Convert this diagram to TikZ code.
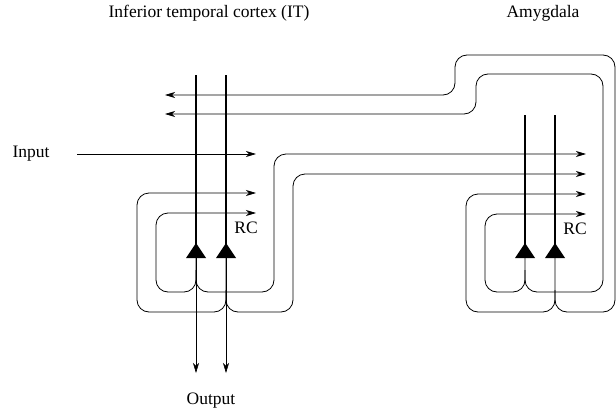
\documentclass[tikz,border=0pt]{standalone}
\usepackage{fontspec}
\setmainfont{Liberation Serif}
\usetikzlibrary{arrows.meta}

\begin{document}
\begin{tikzpicture}[x=1pt, y=-1pt,
        font=\fontsize{17.5}{20}\selectfont,
        axon/.style={line width=0.8pt, rounded corners=12pt},
        dendrite/.style={line width=2.6pt},
        soma/.style={fill=black},
        tip/.style={-{Stealth[length=10pt, width=6pt, inset=3pt]}}]
        \useasboundingbox ( 0, 0 ) rectangle ( 616, 415 );

        % подписи
        \node (itlabel) at ( 209, 13 ) {Inferior temporal cortex (IT)};
        \node (amylabel) at ( 543, 13 ) {Amygdala};
        \node (input) at ( 31, 154 ) {Input};
        \node (output) at ( 211, 401 ) {Output};
        \node (itrc) at ( 246, 228 ) {RC};
        \node (amyrc) at ( 575, 229 ) {RC};

        % тела нейронов
        \coordinate (it1) at ( 196, 258 );
        \coordinate (it2) at ( 226, 258 );
        \coordinate (amy1) at ( 525, 258 );
        \coordinate (amy2) at ( 555, 258 );

        % вход
        \draw [axon, tip] ( 77, 154 ) -- ( 256, 154 );

        % IT: возвратные связи
        \draw [axon, tip] (it1) -- ( 196, 270 ) |- ( 156, 292 ) |- ( 256, 213 );
        \draw [axon, tip] (it2) -- ( 226, 290 ) |- ( 137, 312 ) |- ( 256, 193 );

        % IT -> миндалина
        \draw [axon, tip] ( 196, 270 ) |- ( 274, 292 ) |- ( 586, 154 );
        \draw [axon, tip] ( 226, 290 ) |- ( 293, 312 ) |- ( 586, 174 );

        % миндалина: возвратные связи
        \draw [axon, tip] (amy1) -- ( 525, 270 ) |- ( 485, 292 ) |- ( 586, 214 );
        \draw [axon, tip] (amy2) -- ( 555, 290 ) |- ( 466, 312 ) |- ( 586, 194 );

        % миндалина -> IT
        \draw [axon, tip] ( 525, 270 ) |- ( 603, 292 ) |- ( 476, 74 ) |- ( 165, 114 );
        \draw [axon, tip] ( 555, 290 ) |- ( 615, 312 ) |- ( 455, 55 ) |- ( 165, 95 );

        % выход
        \draw [line width=0.6pt, tip] (it1) -- ( 196, 373 );
        \draw [line width=0.6pt, tip] (it2) -- ( 226, 373 );

        % дендриты
        \draw [dendrite] ( 196, 75 ) -- ( 196, 246 );
        \draw [dendrite] ( 226, 75 ) -- ( 226, 246 );
        \draw [dendrite] ( 525, 115 ) -- ( 525, 246 );
        \draw [dendrite] ( 555, 115 ) -- ( 555, 246 );

        % сомы
        \fill [soma] ( 196, 243 ) -- ( 186, 258 ) -- ( 206, 258 ) -- cycle;
        \fill [soma] ( 226, 243 ) -- ( 216, 258 ) -- ( 236, 258 ) -- cycle;
        \fill [soma] ( 525, 243 ) -- ( 515, 258 ) -- ( 535, 258 ) -- cycle;
        \fill [soma] ( 555, 243 ) -- ( 545, 258 ) -- ( 565, 258 ) -- cycle;
    \end{tikzpicture}
\end{document}
